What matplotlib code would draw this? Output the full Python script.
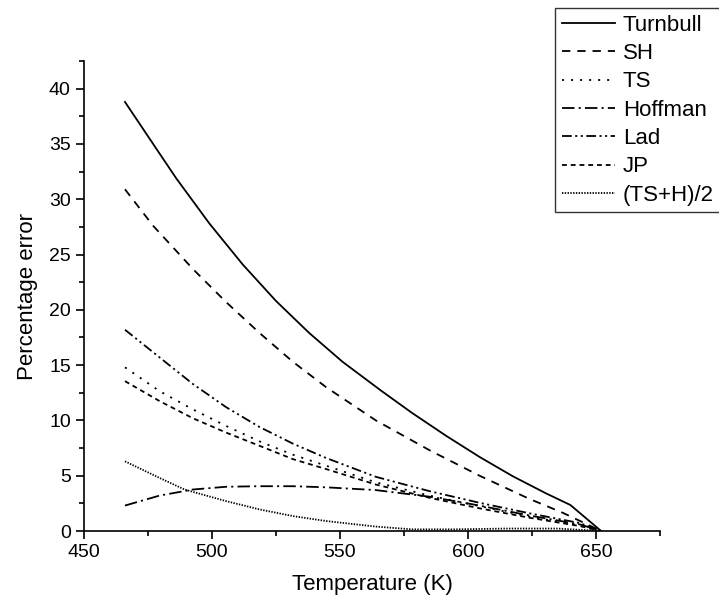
import matplotlib
matplotlib.use("Agg")
import matplotlib.pyplot as plt
from matplotlib.ticker import MultipleLocator

plt.rcParams['font.family'] = ['Liberation Sans', 'DejaVu Sans']
plt.rcParams['lines.scale_dashes'] = False

# Temperature (K) / percentage error
t_turnbull = [466, 477, 486, 499, 512, 525, 538, 551, 566, 578, 591.5, 604.5, 617.5, 630.5, 640, 652]
turnbull   = [38.8, 35.0, 31.9, 27.8, 24.1, 20.8, 17.9, 15.3, 12.7, 10.7, 8.6, 6.7, 4.95, 3.4, 2.35, 0.0]

t_sh = [466, 477, 492.5, 505.5, 518.6, 531.6, 544.6, 564, 585, 604.5, 624, 637, 652]
sh   = [30.9, 27.6, 23.7, 20.7, 17.9, 15.3, 13.0, 10.0, 7.3, 5.0, 2.9, 1.65, 0.0]

t_mid = [466, 479.5, 492.5, 505.5, 518.6, 531.6, 544.6, 564, 585, 604.5, 624, 643.6, 652]
ts      = [14.8, 12.65, 11.0, 9.5, 8.1, 6.9, 5.9, 4.4, 3.2, 2.25, 1.3, 0.5, 0.0]
jp      = [13.55, 11.75, 10.2, 8.9, 7.7, 6.5, 5.6, 4.2, 3.0, 2.05, 1.2, 0.45, 0.0]
lad     = [18.2, 15.7, 13.3, 11.2, 9.4, 7.9, 6.6, 4.9, 3.6, 2.55, 1.6, 0.72, 0.0]
hoffman = [2.3, 3.2, 3.75, 4.0, 4.05, 4.05, 3.95, 3.7, 3.1, 2.3, 1.4, 0.6, 0.0]

t_tsh = [466, 479.5, 489.3, 505.5, 518.6, 531.6, 544.6, 564, 578, 595, 615, 635, 652]
ts_h  = [6.3, 4.8, 3.75, 2.7, 1.95, 1.35, 0.9, 0.4, 0.15, 0.15, 0.22, 0.22, 0.0]

series = [
    ("Turnbull", t_turnbull, turnbull, '-'),
    ("SH", t_sh, sh, (0, (6, 5))),
    ("TS", t_mid, ts, (0, (1.5, 5))),
    ("Hoffman", t_mid, hoffman, (0, (9, 3, 1.5, 3))),
    ("Lad", t_mid, lad, (0, (7, 2.5, 1.5, 2.5, 1.5, 2.5))),
    ("JP", t_mid, jp, (0, (3.5, 2.8))),
    ("(TS+H)/2", t_tsh, ts_h, (0, (1, 1))),
]

fig = plt.figure(figsize=(7.19, 6.05), dpi=100)
ax = fig.add_axes([84/719, 1-531/605, (660-84)/719, (531-61)/605])

for name, xs, vals, ls in series:
    ax.plot(xs, vals, color='black', lw=1.3, linestyle=ls, label=name)

ax.set_xlim(450, 675)
ax.set_ylim(0, 42.5)
ax.xaxis.set_major_locator(MultipleLocator(50))
ax.xaxis.set_minor_locator(MultipleLocator(25))
ax.yaxis.set_major_locator(MultipleLocator(5))
ax.yaxis.set_minor_locator(MultipleLocator(2.5))
for s in ['top', 'right']:
    ax.spines[s].set_visible(False)
for s in ['left', 'bottom']:
    ax.spines[s].set_linewidth(1.2)
ax.tick_params(which='major', direction='out', length=6, width=1.2, labelsize=14)
ax.tick_params(which='minor', direction='out', length=3.5, width=1.2)
ax.set_xlabel("Temperature (K)", fontsize=16, labelpad=9)
ax.set_ylabel("Percentage error", fontsize=16, labelpad=8)

leg = fig.legend(loc='upper left', bbox_to_anchor=(555/719, 1-8/605), borderaxespad=0,
                 fontsize=16, frameon=True, fancybox=False, edgecolor='black',
                 handlelength=2.4, handletextpad=0.35, labelspacing=0.33, borderpad=0.3)
leg.get_frame().set_linewidth(1.0)

fig.savefig("out.png", dpi=100)
